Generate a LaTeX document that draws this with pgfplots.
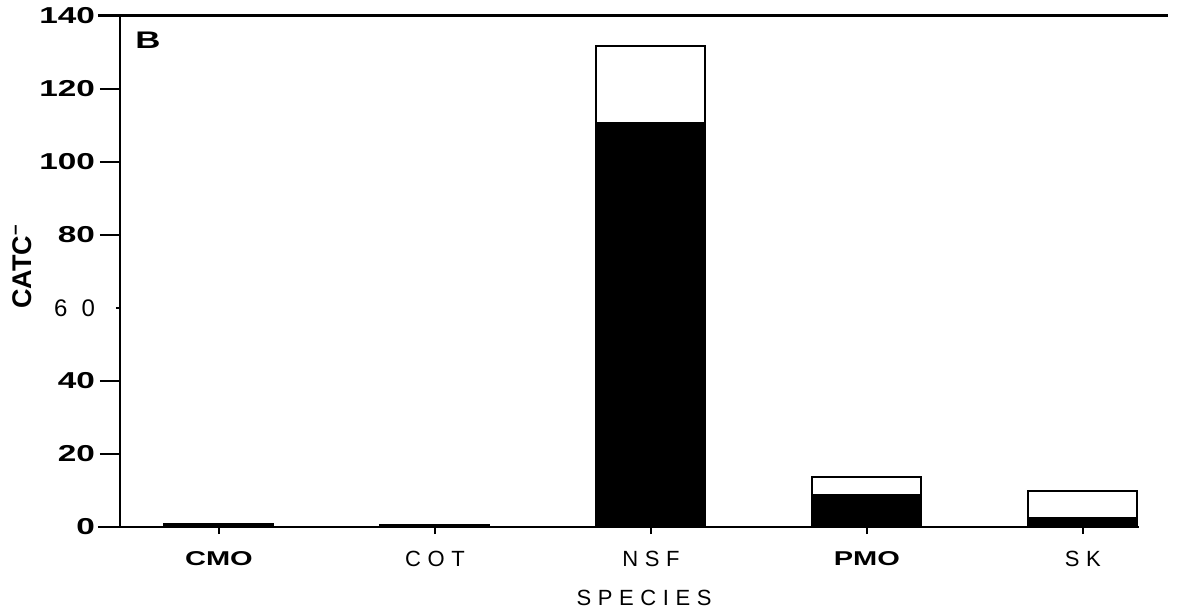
\documentclass[border=0pt]{standalone}
\usepackage{pgfplots}
\pgfplotsset{compat=1.18}
\usepackage{fontspec}
\setmainfont{Liberation Sans}
\newfontfamily\wide{Liberation Sans}[FakeStretch=1.45]
\newfontfamily\spaced{Liberation Sans}[LetterSpace=30]

\begin{document}
\begin{tikzpicture}
\useasboundingbox (-60pt,-42pt) rectangle (532.5pt,263.5pt);
\begin{axis}[
  scale only axis, width=524pt, height=255.5pt,
  at={(0,0)}, anchor=south west,
  xmin=-0.458, xmax=4.394, ymin=0, ymax=140,
  clip=false,
  axis line style={draw=none},
  ybar stacked, bar width=0.505,
  tick pos=left, tick align=outside,
  major tick length=10pt,
  tick style={black, line width=0.8pt},
  xtick={0,1,2,3,4},
  xticklabels={{\wide\bfseries\fontsize{10}{10}\selectfont CMO},{\spaced COT},{\spaced NSF},{\wide\bfseries\fontsize{10}{10}\selectfont PMO},{\spaced SK}},
  xtick style={/pgfplots/major tick length=3.5pt},
  xticklabel style={font=\fontsize{11}{11}\selectfont, yshift=1.5pt},
  ytick={0,20,40,80,100,120,140},
  yticklabels={0,20,40,80,100,120,140},
  yticklabel style={font=\wide\bfseries\fontsize{11.5}{12}\selectfont, xshift=1pt},
  extra y ticks={60},
  extra y tick labels={6\hspace{7pt}0},
  extra y tick style={
    ytick style={/pgfplots/major tick length=2pt},
    yticklabel style={font=\spaced\fontsize{12}{12}\selectfont, xshift=0pt}},
  xlabel={\spaced SPECIES},
  xlabel style={font=\fontsize{11}{11}\selectfont, yshift=-5pt},
]
% lower (black) part of each bar
\addplot[fill=black, draw=black, line width=1pt] coordinates {
  (0,0.2) (1,0.1) (2,110.6) (3,8.8) (4,2.5)};
% upper (white) part
\addplot[fill=white, draw=black, line width=1pt] coordinates {
  (0,0.6) (1,0.5) (2,21.1) (3,4.9) (4,7.3)};

\draw[line width=1pt] (rel axis cs:0,0) -- (rel axis cs:0,1);
\draw[line width=1.5pt] ([xshift=-11pt]rel axis cs:0,1) -- (rel axis cs:1,1);
\draw[line width=1pt] ([xshift=-11pt]rel axis cs:0,0) -- (axis cs:4.259,0);
\node[font=\wide\bfseries\fontsize{12}{12}\selectfont, anchor=north west, inner sep=0pt]
  at ([xshift=7.5pt,yshift=-8pt]rel axis cs:0,1) {B};
\node[rotate=90, font=\bfseries\fontsize{13.5}{14}\selectfont]
  at ([xshift=-49pt]rel axis cs:0,0.51) {CATC\textsuperscript{--}};
\end{axis}
\end{tikzpicture}
\end{document}
